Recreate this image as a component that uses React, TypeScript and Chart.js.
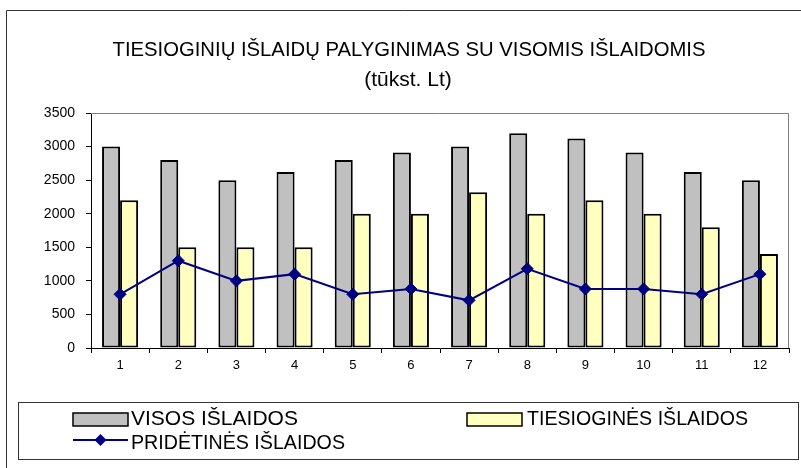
import React, { useEffect, useRef } from "react";
import { Chart, registerables } from "chart.js";

Chart.register(...registerables);

const categories = ["1", "2", "3", "4", "5", "6", "7", "8", "9", "10", "11", "12"];
const visosIslaidos = [3000, 2800, 2500, 2620, 2800, 2910, 3000, 3200, 3120, 2910, 2620, 2500];
const tiesioginesIslaidos = [2200, 1500, 1500, 1500, 2000, 2000, 2320, 2000, 2200, 2000, 1800, 1400];
const pridetinesIslaidos = [800, 1300, 1000, 1100, 800, 880, 710, 1180, 880, 880, 800, 1100];
const yMin = 0;
const yMax = 3500;
const yStep = 500;
const titleLines = ["TIESIOGINIŲ IŠLAIDŲ PALYGINIMAS SU VISOMIS IŠLAIDOMIS", "(tūkst. Lt)"];
const seriesLabels = ["VISOS IŠLAIDOS", "TIESIOGINĖS IŠLAIDOS", "PRIDĖTINĖS IŠLAIDOS"];

const FONT = "'Liberation Sans', Arial, sans-serif";

const decorPlugin = {
  id: "decor",
  beforeDraw(chart: any) {
    const ctx = chart.ctx;
    ctx.save();
    ctx.fillStyle = "#ffffff";
    ctx.fillRect(0, 0, chart.width, chart.height);
    // outer frame
    ctx.strokeStyle = "#333333";
    ctx.lineWidth = 1;
    ctx.beginPath();
    ctx.moveTo(chart.width + 5, 10.5);
    ctx.lineTo(6.5, 10.5);
    ctx.lineTo(6.5, chart.height + 5);
    ctx.stroke();
    ctx.restore();
  },
  afterDraw(chart: any) {
    const ctx = chart.ctx;
    const a = chart.chartArea;
    ctx.save();
    // plot area border (top / right)
    ctx.strokeStyle = "#808080";
    ctx.lineWidth = 1;
    ctx.beginPath();
    ctx.moveTo(a.left, a.top + 0.5);
    ctx.lineTo(a.right - 0.5, a.top + 0.5);
    ctx.lineTo(a.right - 0.5, a.bottom);
    ctx.stroke();

    // title
    ctx.fillStyle = "#000000";
    ctx.textAlign = "center";
    ctx.textBaseline = "alphabetic";
    ctx.font = `21px ${FONT}`;
    ctx.fillText(titleLines[0], 409, 56, 593);
    ctx.fillText(titleLines[1], 408, 86, 93);

    // legend box
    ctx.strokeStyle = "#333333";
    ctx.lineWidth = 1;
    ctx.strokeRect(18.5, 402.5, 780, 57);

    const ds = chart.data.datasets;
    ctx.textAlign = "left";
    ctx.font = `21px ${FONT}`;
    const drawBarSwatch = (x: number, d: any) => {
      ctx.fillStyle = d.backgroundColor;
      ctx.fillRect(x, 413, 55, 13);
      ctx.strokeStyle = "#000000";
      ctx.lineWidth = 1.5;
      ctx.strokeRect(x, 413, 55, 13);
    };
    drawBarSwatch(73, ds[0]);
    ctx.fillStyle = "#000000";
    ctx.fillText(ds[0].label, 131, 425, 168);
    drawBarSwatch(467, ds[1]);
    ctx.fillStyle = "#000000";
    ctx.fillText(ds[1].label, 527, 425, 221);
    // line item
    ctx.strokeStyle = ds[2].borderColor;
    ctx.lineWidth = 2;
    ctx.beginPath();
    ctx.moveTo(73, 440);
    ctx.lineTo(128, 440);
    ctx.stroke();
    ctx.fillStyle = ds[2].pointBackgroundColor;
    ctx.beginPath();
    ctx.moveTo(100.5, 434);
    ctx.lineTo(106.5, 440);
    ctx.lineTo(100.5, 446);
    ctx.lineTo(94.5, 440);
    ctx.closePath();
    ctx.fill();
    ctx.fillStyle = "#000000";
    ctx.fillText(ds[2].label, 131, 449, 214);
    ctx.restore();
  },
};

export default function App() {
  const canvasRef = useRef<HTMLCanvasElement | null>(null);

  useEffect(() => {
    if (!canvasRef.current) return;
    const chart = new Chart(canvasRef.current, {
      type: "bar",
      data: {
        labels: categories,
        datasets: [
          {
            type: "bar",
            label: seriesLabels[0],
            data: visosIslaidos,
            backgroundColor: "#C0C0C0",
            borderColor: "#000000",
            borderWidth: 2,
            borderSkipped: false,
            categoryPercentage: 0.62,
            barPercentage: 1.0,
            order: 1,
          },
          {
            type: "bar",
            label: seriesLabels[1],
            data: tiesioginesIslaidos,
            backgroundColor: "#FFFFC0",
            borderColor: "#000000",
            borderWidth: 2,
            borderSkipped: false,
            categoryPercentage: 0.62,
            barPercentage: 1.0,
            order: 1,
          },
          {
            type: "line",
            label: seriesLabels[2],
            data: pridetinesIslaidos,
            borderColor: "#000080",
            borderWidth: 2,
            pointStyle: "rectRot",
            pointRadius: 6,
            pointBackgroundColor: "#000080",
            pointBorderColor: "#000080",
            pointBorderWidth: 1,
            tension: 0,
            order: 0,
          } as any,
        ],
      },
      options: {
        responsive: false,
        animation: false,
        devicePixelRatio: 1,
        layout: { padding: { left: 0, right: 12, top: 113, bottom: 90 } },
        plugins: {
          legend: { display: false },
          title: { display: false },
          tooltip: { enabled: false },
        },
        scales: {
          x: {
            offset: true,
            grid: {
              offset: true,
              drawOnChartArea: false,
              drawTicks: true,
              tickLength: 5,
              color: "#000000",
              tickColor: "#000000",
            },
            border: { display: true, color: "#000000", width: 1 },
            ticks: {
              color: "#000000",
              font: { family: FONT, size: 13 },
              padding: 5,
              maxRotation: 0,
            },
            afterFit(scale: any) {
              scale.height = 30;
            },
          },
          y: {
            min: yMin,
            max: yMax,
            grid: {
              drawOnChartArea: false,
              drawTicks: true,
              tickLength: 5,
              color: "#000000",
              tickColor: "#000000",
            },
            border: { display: true, color: "#000000", width: 1 },
            ticks: {
              stepSize: yStep,
              color: "#000000",
              font: { family: FONT, size: 14 },
              padding: 11,
              callback: (v: any) => String(v),
            },
            afterFit(scale: any) {
              scale.width = 91;
            },
          },
        },
      },
      plugins: [decorPlugin],
    } as any);
    return () => chart.destroy();
  }, []);

  return (
    <div style={{ position: "fixed", left: 0, top: 0, width: 801, height: 468, background: "#fff" }}>
      <canvas ref={canvasRef} width={801} height={468} style={{ width: 801, height: 468, display: "block" }} />
    </div>
  );
}
